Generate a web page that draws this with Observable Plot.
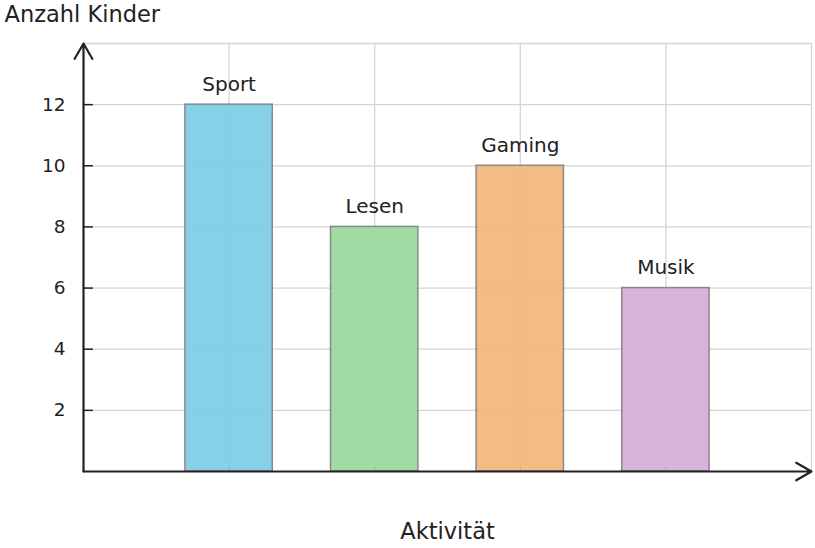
<!DOCTYPE html>
<html>
<head>
<meta charset="utf-8">
<script src="https://cdn.jsdelivr.net/npm/d3@7"></script>
<script src="https://cdn.jsdelivr.net/npm/@observablehq/plot@0.6"></script>
<style>
  html, body { margin: 0; padding: 0; background: #fff; }
  #chart svg { display: block; }
</style>
</head>
<body>
<div id="chart"></div>
<script>
const categories = ["Sport", "Lesen", "Gaming", "Musik"];
const values = [12, 8, 10, 6];
const colors = ["#79CBE5", "#97D799", "#F2B576", "#D4ACD7"];
const yTicks = [2, 4, 6, 8, 10, 12];
const yGrid = [2, 4, 6, 8, 10, 12, 14];
const xDomain = [0, 5];
const yDomain = [0, 14];

const data = categories.map((c, i) => ({ name: c, pos: i + 1, value: values[i], color: colors[i] }));
const xGrid = [...data.map(d => d.pos), xDomain[1]];
const barHalf = 0.3;

const font = "DejaVu Sans, sans-serif";

const chart = Plot.plot({
  width: 815,
  height: 548,
  marginTop: 43,
  marginLeft: 83,
  marginRight: 4,
  marginBottom: 77,
  style: { fontFamily: font, background: "#fff", color: "#222" },
  x: { domain: xDomain, axis: null },
  y: { domain: yDomain, axis: null },
  marks: [
    Plot.ruleX(xGrid, { stroke: "#d4d4d4", strokeWidth: 1.3 }),
    Plot.ruleY(yGrid, { stroke: "#d4d4d4", strokeWidth: 1.3 }),
    Plot.ruleX(data.map(d => d.pos), { y1: 0, y2: 0.13, stroke: "#444", strokeWidth: 1.3 }),
    Plot.rectY(data, {
      x1: d => d.pos - barHalf,
      x2: d => d.pos + barHalf,
      y: "value",
      fill: d => d.color,
      fillOpacity: 0.9,
      stroke: "#888",
      strokeWidth: 1.5
    }),
    Plot.text(data, {
      x: "pos", y: "value", text: "name",
      dy: -20, fontSize: 20, fill: "#222", lineAnchor: "middle"
    }),
    Plot.ruleY(yTicks, { x1: 0, x2: 0.068, stroke: "#222", strokeWidth: 1.5 }),
    Plot.text(yTicks, {
      x: 0, y: d => d, text: d => String(d),
      dx: -18, textAnchor: "end", fontSize: 18.5, fill: "#222"
    }),
    Plot.arrow([{ x1: 0, y1: 0, x2: xDomain[1], y2: 0 }], {
      x1: "x1", y1: "y1", x2: "x2", y2: "y2",
      stroke: "#222", strokeWidth: 2.2, headLength: 12, headAngle: 60, insetEnd: 0
    }),
    Plot.arrow([{ x1: 0, y1: 0, x2: 0, y2: yDomain[1] }], {
      x1: "x1", y1: "y1", x2: "x2", y2: "y2",
      stroke: "#222", strokeWidth: 2.2, headLength: 12, headAngle: 60, insetEnd: 0
    }),
    Plot.text(["Anzahl Kinder"], {
      frameAnchor: "top-left", text: d => d,
      dx: -79, dy: -37, textAnchor: "start", fontSize: 22.5, fill: "#222"
    }),
    Plot.text(["Aktivität"], {
      frameAnchor: "bottom", text: d => d,
      dy: 67, fontSize: 22.5, fill: "#222"
    })
  ]
});

document.getElementById("chart").appendChild(chart);
</script>
</body>
</html>
